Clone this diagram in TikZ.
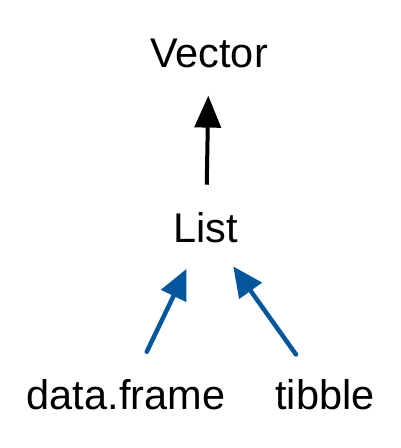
\documentclass[tikz,border=0pt]{standalone}
\usepackage{fontspec}
\setmainfont{Liberation Sans}
\usetikzlibrary{arrows.meta}
\definecolor{classblue}{RGB}{2,86,155}
\tikzset{
cls/.style={inner sep=0, anchor=base, font=\fontsize{41.5}{50}\selectfont},
inherit/.style={-{Triangle[length=32pt, width=26pt]}, line width=4pt, shorten <=28pt, shorten >=27pt},
subclass/.style={inherit, classblue, line cap=round, line width=4.5pt, shorten <=31pt, shorten >=28pt, -{Triangle[length=30pt, width=27pt]}}}
\begin{document}
\begin{tikzpicture}[x=1pt, y=1pt]
\useasboundingbox (0,0) rectangle (401,448);
\node [cls] (vector) at (209, 380) {Vector};
\node [cls] (list) at (206, 205) {List};
\node [cls] (df) at (126, 38) {data.frame};
\node [cls] (tbl) at (325, 38) {tibble};
\draw [inherit] (list) -- (vector);
\draw [subclass] (df) -- (list);
\draw [subclass] (tbl) -- (list);
\end{tikzpicture}
\end{document}
